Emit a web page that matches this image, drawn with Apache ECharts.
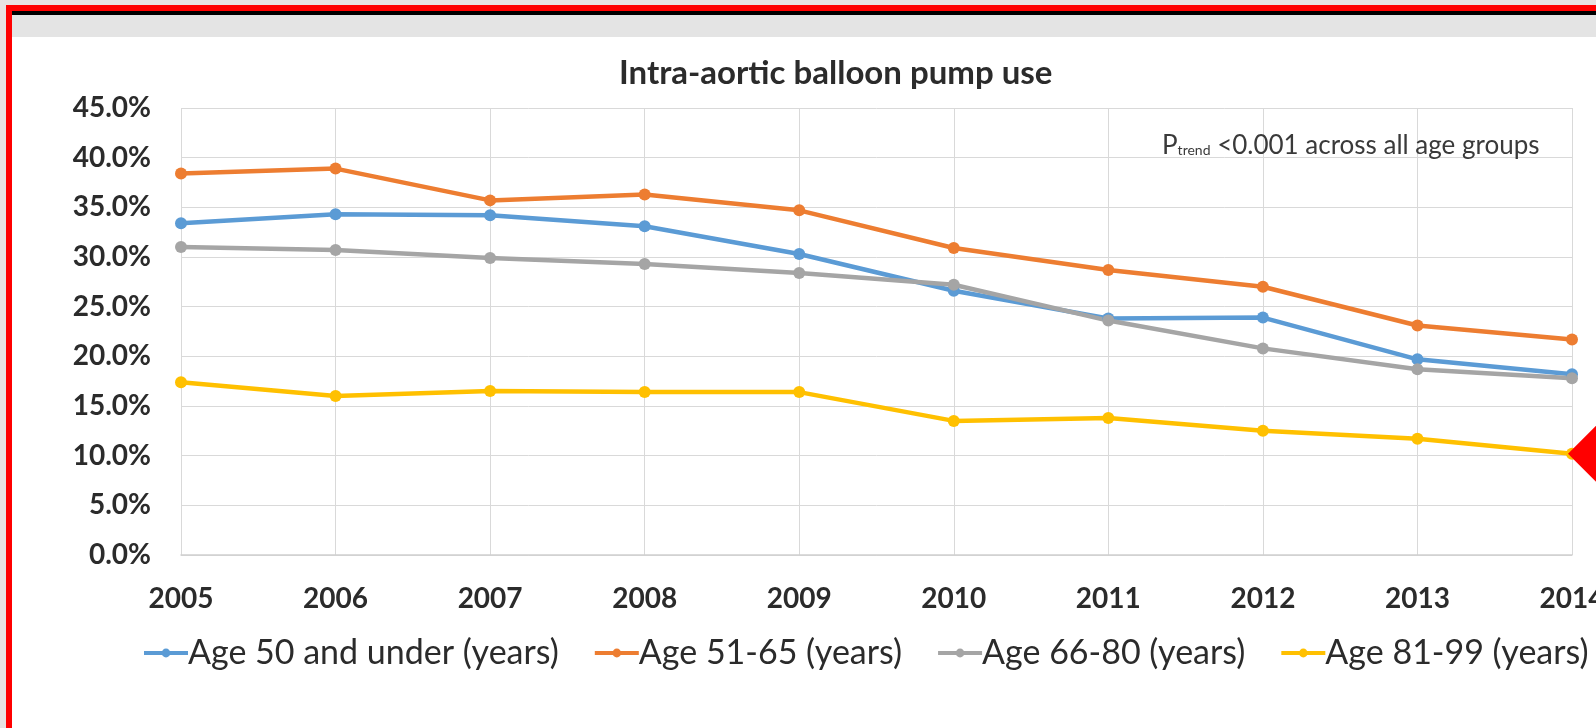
<!DOCTYPE html>
<html>
<head>
<meta charset="utf-8">
<script src="https://cdn.jsdelivr.net/npm/echarts@6/dist/echarts.min.js"></script>
<style>
  html, body { margin: 0; padding: 0; width: 1596px; height: 728px; overflow: hidden; background: #e8e2e1; }
  #frame { position: absolute; left: 6px; top: 5px; width: 1600px; height: 721px; background: #ffffff;
           border-left: 6px solid #ff0000; border-top: 6px solid #ff0000; border-bottom: 2px solid #ff2a2a; }
  #band { position: absolute; left: 12px; top: 11px; width: 1600px; height: 26px; background: #e4e4e4;
          border-top: 4px solid #000; box-sizing: border-box; }
  #chart { position: absolute; left: 0; top: 0; width: 1596px; height: 728px; }
</style>
</head>
<body>
<div id="frame"></div>
<div id="band"></div>
<div id="chart"></div>
<script>
// Intra-aortic balloon pump use by age group, 2005-2014 (% of patients)
const years = ['2005', '2006', '2007', '2008', '2009', '2010', '2011', '2012', '2013', '2014'];
const age50Under = [33.4, 34.3, 34.2, 33.1, 30.3, 26.6, 23.8, 23.9, 19.7, 18.2];
const age51to65  = [38.4, 38.9, 35.7, 36.3, 34.7, 30.9, 28.7, 27.0, 23.1, 21.7];
const age66to80  = [31.0, 30.7, 29.9, 29.3, 28.4, 27.2, 23.6, 20.8, 18.7, 17.8];
const age81to99  = [17.4, 16.0, 16.5, 16.4, 16.4, 13.5, 13.8, 12.5, 11.7, 10.2];
const seriesNames = ['Age 50 and under (years)', 'Age 51-65 (years)', 'Age 66-80 (years)', 'Age 81-99 (years)'];
const seriesColors = ['#5b9bd5', '#ed7d31', '#a5a5a5', '#ffc000'];

const FONT = 'Lato, "Noto Sans", sans-serif';
const TEXT = '#2b2b2b';

function lineSeries(i, values) {
  return {
    name: seriesNames[i],
    type: 'line',
    data: values,
    symbol: 'circle',
    symbolSize: 12,
    lineStyle: { width: 4.5, color: seriesColors[i] },
    itemStyle: { color: seriesColors[i] },
    emphasis: { disabled: true }
  };
}

const series = [
  lineSeries(0, age50Under),
  lineSeries(1, age51to65),
  lineSeries(2, age66to80),
  lineSeries(3, age81to99)
];

// red diamond pointer at the last value of the oldest group
series[3].markPoint = {
  symbol: 'diamond',
  symbolSize: 92,
  symbolOffset: [42, 0],
  itemStyle: { color: '#ff0000' },
  label: { show: false },
  data: [{ coord: [years[years.length - 1], age81to99[age81to99.length - 1]] }]
};

const chart = echarts.init(document.getElementById('chart'), null, { renderer: 'canvas' });
chart.setOption({
  backgroundColor: 'transparent',
  animation: false,
  title: [
    {
      text: 'Intra-aortic balloon pump use',
      left: 614, top: 52,
      textStyle: { fontFamily: FONT, fontSize: 33, fontWeight: 'bold', color: TEXT }
    },
    {
      text: '{p|P}{s|trend}{t| <0.001 across all age groups}',
      left: 1157, top: 128,
      textStyle: {
        rich: {
          p: { fontFamily: FONT, fontSize: 26, fontWeight: 'normal', color: '#3a3a3a', verticalAlign: 'bottom' },
          s: { fontFamily: FONT, fontSize: 14, fontWeight: 'normal', color: '#3a3a3a', verticalAlign: 'bottom', padding: [0, 0, 2, 0] },
          t: { fontFamily: FONT, fontSize: 26, fontWeight: 'normal', color: '#3a3a3a', verticalAlign: 'bottom' }
        }
      }
    }
  ],
  legend: {
    data: seriesNames,
    left: 137, top: 631, width: 1520,
    itemWidth: 44, itemHeight: 11, itemGap: 34,
    lineStyle: { width: 4 },
    textStyle: { fontFamily: FONT, fontSize: 34, color: TEXT, padding: [0, 0, 0, -5] }
  },
  grid: { left: 181, right: 24, top: 108, bottom: 173, outerBoundsMode: 'none', containLabel: false },
  xAxis: {
    type: 'category',
    data: years,
    boundaryGap: false,
    axisLine: { lineStyle: { color: '#d0d0d0', width: 1.5 } },
    axisTick: { show: false },
    axisLabel: { margin: 30, fontFamily: FONT, fontSize: 28, fontWeight: 'bold', color: TEXT },
    splitLine: { show: true, lineStyle: { color: '#d9d9d9', width: 1 } }
  },
  yAxis: {
    type: 'value',
    min: 0, max: 45, interval: 5,
    axisLine: { show: false },
    axisTick: { show: false },
    axisLabel: {
      margin: 30, fontFamily: FONT, fontSize: 28, fontWeight: 'bold', color: TEXT,
      formatter: v => v.toFixed(1) + '%'
    },
    splitLine: { show: true, lineStyle: { color: '#d9d9d9', width: 1 } }
  },
  series: series
});
</script>
</body>
</html>
